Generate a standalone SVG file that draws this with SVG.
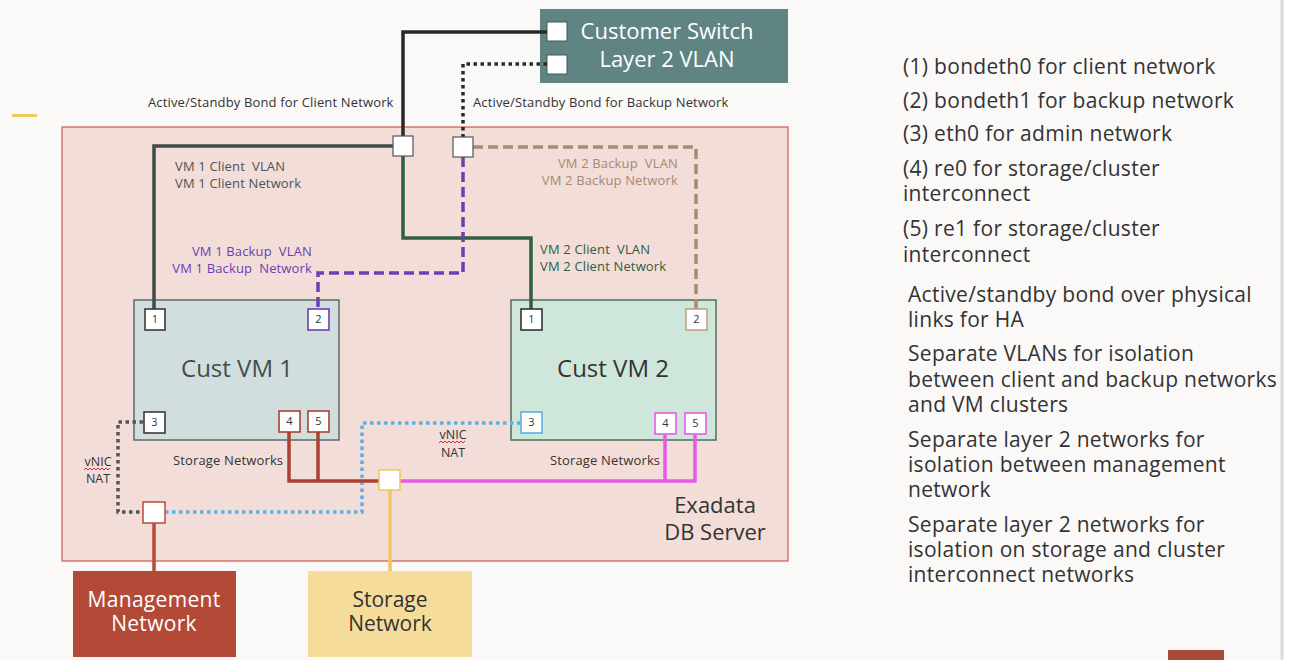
<svg xmlns="http://www.w3.org/2000/svg" width="1291" height="660" viewBox="0 0 1291 660">
<style>
text{font-family:"Open Sans","Noto Sans","Liberation Sans",sans-serif}
.lbl{font-size:13px;letter-spacing:0.15px}
.port{fill:#fff;stroke-width:1.6}
.pn{font-size:11px;fill:#333;text-anchor:middle}
.ln{fill:none;stroke-width:3.5}
.dot{stroke-dasharray:3.5 3.5}
.dash{stroke-dasharray:10 5}
.side{font-size:21px;fill:#333;letter-spacing:0.3px}
</style>
<rect width="1291" height="660" fill="#faf9f8"/>
<rect x="1282" y="0" width="9" height="660" fill="#ffffff"/>
<line x1="1282" y1="0" x2="1282" y2="660" stroke="#dcdcdc" stroke-width="3"/>
<line x1="12" y1="115.5" x2="37" y2="115.5" stroke="#f0c860" stroke-width="3"/>
<rect x="1168" y="650" width="56" height="10" fill="#a9493a"/>

<g id="exadata">
<rect x="62" y="127" width="726" height="434" fill="#f3ddd9" stroke="#cc5a4a" stroke-width="1.2"/>
<text x="715" y="513" font-size="22" fill="#333" text-anchor="middle">Exadata</text>
<text x="715" y="540" font-size="22" fill="#333" text-anchor="middle">DB Server</text>
</g>

<g id="switch">
<rect x="540" y="9" width="248" height="74" fill="#5f8482"/>
<rect x="547" y="22" width="20" height="19" fill="#fff" stroke="#3e5a58" stroke-width="1"/>
<rect x="547" y="55" width="20" height="19" fill="#fff" stroke="#3e5a58" stroke-width="1"/>
<text x="667" y="39" font-size="22" fill="#fff" text-anchor="middle">Customer Switch</text>
<text x="667" y="67" font-size="22" fill="#fff" text-anchor="middle">Layer 2 VLAN</text>
</g>

<g id="vm1">
<rect x="134" y="300" width="205" height="140" fill="#d2dede" stroke="#5c6a6a" stroke-width="1.5"/>
<text x="237" y="377" font-size="24" fill="#404d4d" text-anchor="middle">Cust VM 1</text>
</g>
<g id="vm2">
<rect x="511" y="300" width="205" height="140" fill="#cfe6da" stroke="#4c7060" stroke-width="1.5"/>
<text x="613" y="377" font-size="24" fill="#333" text-anchor="middle">Cust VM 2</text>
</g>

<g id="labels">
<text class="lbl" x="148" y="107" fill="#333">Active/Standby Bond for Client Network</text>
<text class="lbl" x="473" y="107" fill="#333">Active/Standby Bond for Backup Network</text>
<text class="lbl" x="175" y="171" fill="#4a5555">VM 1 Client &#160;VLAN</text>
<text class="lbl" x="175" y="188" fill="#4a5555">VM 1 Client Network</text>
<text class="lbl" x="312" y="256" fill="#6a3fb0" text-anchor="end">VM 1 Backup &#160;VLAN</text>
<text class="lbl" x="312" y="273" fill="#6a3fb0" text-anchor="end">VM 1 Backup &#160;Network</text>
<text class="lbl" x="678" y="168" fill="#a58a70" text-anchor="end">VM 2 Backup &#160;VLAN</text>
<text class="lbl" x="678" y="185" fill="#a58a70" text-anchor="end">VM 2 Backup Network</text>
<text class="lbl" x="540" y="254" fill="#2e5e3e">VM 2 Client &#160;VLAN</text>
<text class="lbl" x="540" y="271" fill="#2e5e3e">VM 2 Client Network</text>
<text class="lbl" x="173" y="465" fill="#333">Storage Networks</text>
<text class="lbl" x="550" y="465" fill="#333">Storage Networks</text>
<text x="98" y="466" font-size="12.5" fill="#333" text-anchor="middle">vNIC</text>
<text x="98" y="483" font-size="12.5" fill="#333" text-anchor="middle">NAT</text>
<path d="M84,470 l2,-2 l2,2 l2,-2 l2,2 l2,-2 l2,2 l2,-2 l2,2 l2,-2 l2,2 l2,-2 l2,2 l2,-2" fill="none" stroke="#d03030" stroke-width="1"/>
<text x="453" y="439" font-size="12.5" fill="#333" text-anchor="middle">vNIC</text>
<text x="453" y="457" font-size="12.5" fill="#333" text-anchor="middle">NAT</text>
<path d="M439,443 l2,-2 l2,2 l2,-2 l2,2 l2,-2 l2,2 l2,-2 l2,2 l2,-2 l2,2 l2,-2 l2,2 l2,-2" fill="none" stroke="#d03030" stroke-width="1"/>
</g>

<g id="connectors">
<path class="ln" d="M547,32 H403 V136" stroke="#2a2a2a"/>
<path class="ln dot" d="M547,64 H463 V137" stroke="#2a2a2a"/>
<path class="ln" d="M393,146 H154 V309" stroke="#3f4b4b"/>
<path class="ln" d="M403,156 V238 H531 V309" stroke="#2f5f40"/>
<path class="ln dash" d="M463,157 V273 H318 V309" stroke="#6a3fb0"/>
<path class="ln dash" d="M473,147 H696 V309" stroke="#a88c73"/>
<path class="ln dot" d="M143,422 H118 V512 H143" stroke="#555"/>
<path class="ln dot" d="M165,512 H362 V423 H521" stroke="#5ab0e8"/>
<path class="ln" d="M289,432 V481 H379 M318,432 V481" stroke="#a8432f"/>
<path class="ln" d="M400,481 H695 V435 M665,435 V481" stroke="#e35be6"/>
<path class="ln" d="M154,523 V571" stroke="#b94a38"/>
<path class="ln" d="M390,490 V571" stroke="#f0c860"/>
</g>

<g id="vm1-ports">
<rect class="port" x="145" y="309" width="20" height="21" stroke="#3a3a3a"/><text class="pn" x="155" y="323">1</text>
<rect class="port" x="308" y="309" width="21" height="21" stroke="#6a3fb0"/><text class="pn" x="318.5" y="323">2</text>
<rect class="port" x="144" y="412" width="21" height="21" stroke="#3a3a3a"/><text class="pn" x="154.5" y="426">3</text>
<rect class="port" x="279" y="411" width="21" height="21" stroke="#a8432f"/><text class="pn" x="289.5" y="425">4</text>
<rect class="port" x="308" y="411" width="21" height="21" stroke="#a8432f"/><text class="pn" x="318.5" y="425">5</text>
</g>
<g id="vm2-ports">
<rect class="port" x="521" y="309" width="21" height="21" stroke="#333"/><text class="pn" x="531.5" y="323">1</text>
<rect class="port" x="686" y="309" width="21" height="21" stroke="#c8a080"/><text class="pn" x="696.5" y="323">2</text>
<rect class="port" x="521" y="412" width="21" height="21" stroke="#5ab0e8"/><text class="pn" x="531.5" y="426">3</text>
<rect class="port" x="655" y="413" width="21" height="21" stroke="#e35be6"/><text class="pn" x="665.5" y="427">4</text>
<rect class="port" x="685" y="413" width="21" height="21" stroke="#e35be6"/><text class="pn" x="695.5" y="427">5</text>
</g>

<g id="client-bond"><rect x="393" y="136" width="20" height="20" fill="#fff" stroke="#555" stroke-width="1.2"/></g>
<g id="backup-bond"><rect x="453" y="137" width="20" height="20" fill="#fff" stroke="#555" stroke-width="1.2"/></g>
<g id="mgmt-port"><rect x="143" y="502" width="22" height="21" fill="#fff" stroke="#b94a38" stroke-width="1.5"/></g>
<g id="storage-port"><rect x="379" y="470" width="21" height="20" fill="#fff" stroke="#f0c860" stroke-width="1.5"/></g>

<g id="mgmt-net">
<rect x="73" y="571" width="163" height="86" fill="#b34a38"/>
<text x="154" y="607" font-size="21" fill="#fff" text-anchor="middle" letter-spacing="0.3">Management</text>
<text x="154" y="631" font-size="21" fill="#fff" text-anchor="middle" letter-spacing="0.3">Network</text>
</g>
<g id="storage-net">
<rect x="308" y="571" width="164" height="86" fill="#f5dc9b"/>
<text x="390" y="607" font-size="21" fill="#333" text-anchor="middle">Storage</text>
<text x="390" y="631" font-size="21" fill="#333" text-anchor="middle">Network</text>
</g>

<g id="legend">
<text class="side" x="903" y="74">(1) bondeth0 for client network</text>
<text class="side" x="903" y="108">(2) bondeth1 for backup network</text>
<text class="side" x="903" y="141">(3) eth0 for admin network</text>
<text class="side" x="903" y="176">(4) re0 for storage/cluster</text>
<text class="side" x="903" y="201">interconnect</text>
<text class="side" x="903" y="236">(5) re1 for storage/cluster</text>
<text class="side" x="903" y="262">interconnect</text>
<text class="side" x="908" y="302">Active/standby bond over physical</text>
<text class="side" x="908" y="327">links for HA</text>
<text class="side" x="908" y="361">Separate VLANs for isolation</text>
<text class="side" x="908" y="387">between client and backup networks</text>
<text class="side" x="908" y="412">and VM clusters</text>
<text class="side" x="908" y="447">Separate layer 2 networks for</text>
<text class="side" x="908" y="472">isolation between management</text>
<text class="side" x="908" y="497">network</text>
<text class="side" x="908" y="532">Separate layer 2 networks for</text>
<text class="side" x="908" y="557">isolation on storage and cluster</text>
<text class="side" x="908" y="582">interconnect networks</text>
</g>
</svg>
